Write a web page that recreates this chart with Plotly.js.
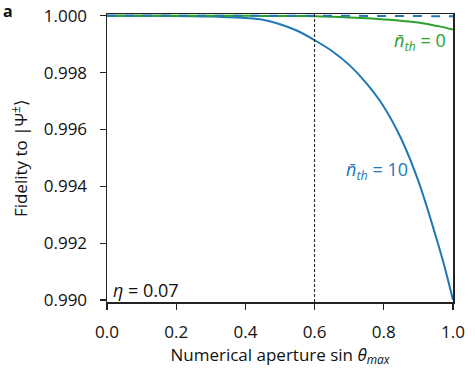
<!DOCTYPE html>
<html>
<head>
<meta charset="utf-8">
<script src="https://cdn.plot.ly/plotly-3.0.1.min.js"></script>
<style>
  body { margin: 0; background: #fff; }
  #plot { width: 475px; height: 380px; }
</style>
</head>
<body>
<div id="plot"></div>
<script>
// numerical aperture sin(theta_max)
const na = [0.00, 0.05, 0.10, 0.15, 0.20, 0.25, 0.30, 0.35, 0.40, 0.45, 0.50,
            0.55, 0.60, 0.65, 0.70, 0.75, 0.80, 0.85, 0.90, 0.95, 0.975, 1.00];

// fidelity, n_th = 10 (solid blue)
const fid_nth10 = [1.00000, 1.00000, 1.00000, 1.00000, 0.99999, 0.99998, 0.99997, 0.99995, 0.99992, 0.99986, 0.99970,
                   0.99947, 0.99914, 0.99876, 0.99827, 0.99762, 0.99680, 0.99568, 0.99418, 0.99225, 0.99120, 0.99000];

// fidelity, n_th = 0 (green)
const fid_nth0 = [1.00000, 1.00000, 1.00000, 1.00000, 1.00000, 1.00000, 1.00000, 1.00000, 1.00000, 0.99999, 0.99999,
                  0.99999, 0.99998, 0.99996, 0.99994, 0.99991, 0.99987, 0.99982, 0.99976, 0.99965, 0.99959, 0.99951];

// blue dashed reference, nearly flat at 1
const fid_ref = [1.00000, 1.00000, 1.00000, 1.00000, 1.00000, 1.00000, 1.00000, 1.00000, 1.00000, 1.00000, 1.00000,
                 1.00000, 1.00000, 1.00000, 1.00000, 0.99999, 0.99999, 0.99999, 0.99999, 0.99998, 0.99998, 0.99998];

const na_marker = 0.6;
const eta = 0.07;

const xticks = [0.0, 0.2, 0.4, 0.6, 0.8, 1.0];
const yticks = [0.990, 0.992, 0.994, 0.996, 0.998, 1.000];

const blue = "#1f77b4";
const green = "#2ca02c";
const font_family = "Open Sans, sans-serif";

let data = [
  {
    x: na, y: fid_nth10, type: "scatter", mode: "lines",
    line: { color: blue, width: 2, shape: "spline" },
    hoverinfo: "skip"
  },
  {
    x: na, y: fid_nth0, type: "scatter", mode: "lines",
    line: { color: green, width: 2, shape: "spline" },
    hoverinfo: "skip"
  },
  {
    x: na, y: fid_ref, type: "scatter", mode: "lines",
    line: { color: blue, width: 2, dash: "dash", shape: "spline" },
    hoverinfo: "skip"
  }
];

let axis_common = {
  showline: true,
  mirror: true,
  linecolor: "#222",
  linewidth: 1.5,
  ticks: "outside",
  ticklen: 6,
  tickwidth: 1.3,
  tickcolor: "#222",
  showgrid: false,
  zeroline: false,
  tickfont: { family: font_family, size: 17, color: "#111", weight: 500 }
};

let layout = {
  width: 475,
  height: 380,
  margin: { l: 107, r: 22, t: 14, b: 78 },
  paper_bgcolor: "#fff",
  plot_bgcolor: "#fff",
  showlegend: false,
  font: { family: font_family, color: "#111" },
  xaxis: Object.assign({}, axis_common, {
    range: [0, 1],
    tickvals: xticks,
    tickformat: ".1f",
    ticklabelstandoff: 8,
    title: { text: "Numerical aperture sin <i>θ<sub>max</sub></i>", font: { family: font_family, size: 17, weight: 500 }, standoff: 5 }
  }),
  yaxis: Object.assign({}, axis_common, {
    range: [0.98993, 1.00006],
    tickvals: yticks,
    tickformat: ".3f",
    ticklabelstandoff: 9
  }),
  shapes: [
    {
      type: "line", xref: "x", yref: "paper",
      x0: na_marker, x1: na_marker, y0: 0, y1: 1,
      line: { color: "#111", width: 1, dash: "3px,2px" }
    }
  ],
  annotations: [
    {
      // y axis title, placed by hand to sit close to the frame
      text: "Fidelity to |Ψ<sup>±</sup>⟩", xref: "paper", yref: "paper", x: -0.254, y: 0.5,
      xanchor: "center", yanchor: "middle", textangle: -90, showarrow: false,
      font: { family: font_family, size: 17, color: "#111", weight: 500 }
    },
    {
      text: "<b>a</b>", xref: "paper", yref: "paper", x: -0.306, y: 1.012,
      xanchor: "left", yanchor: "middle", showarrow: false,
      font: { family: font_family, size: 16, color: "#111" }
    },
    {
      text: "<i>η</i> = " + eta.toFixed(2), xref: "paper", yref: "paper", x: 0.012, y: 0.04,
      xanchor: "left", yanchor: "middle", showarrow: false,
      font: { family: font_family, size: 18, color: "#111", weight: 500 }
    },
    {
      text: "<i>n̄<sub>th</sub></i> = 0", xref: "paper", yref: "paper", x: 0.985, y: 0.905,
      xanchor: "right", yanchor: "middle", showarrow: false,
      font: { family: font_family, size: 18, color: green, weight: 500 }
    },
    {
      text: "<i>n̄<sub>th</sub></i> = 10", xref: "paper", yref: "paper", x: 0.877, y: 0.455,
      xanchor: "right", yanchor: "middle", showarrow: false,
      font: { family: font_family, size: 18, color: blue, weight: 500 }
    }
  ]
};

Plotly.newPlot("plot", data, layout, { displayModeBar: false, staticPlot: true });
</script>
</body>
</html>
